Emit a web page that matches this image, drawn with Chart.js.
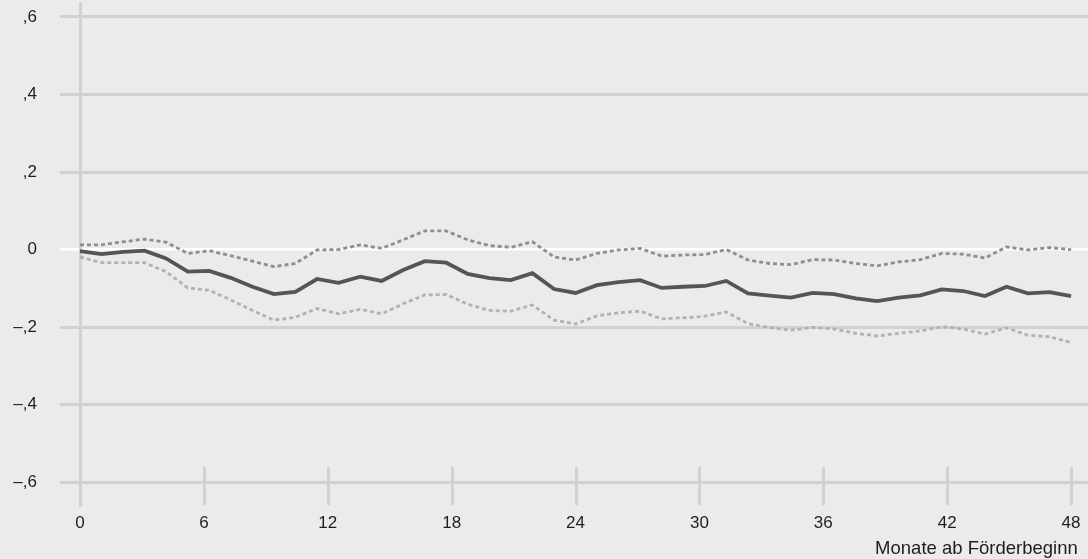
<!DOCTYPE html>
<html>
<head>
<meta charset="utf-8">
<script src="https://cdn.jsdelivr.net/npm/chart.js@4"></script>
<style>
  html, body { margin: 0; padding: 0; background: #ebebeb; }
  #wrap { width: 1088px; height: 559px; position: relative; }
</style>
</head>
<body>
<div id="wrap"><canvas id="chart"></canvas></div>
<script>
// months since start (47 observations spread over 0..48)
var months = [0, 1.04, 2.09, 3.13, 4.17, 5.22, 6.26, 7.30, 8.35, 9.39, 10.43, 11.48,
  12.52, 13.57, 14.61, 15.65, 16.70, 17.74, 18.78, 19.83, 20.87, 21.91, 22.96, 24.00,
  25.04, 26.09, 27.13, 28.17, 29.22, 30.26, 31.30, 32.35, 33.39, 34.43, 35.48, 36.52,
  37.57, 38.61, 39.65, 40.70, 41.74, 42.78, 43.83, 44.87, 45.91, 46.96, 48];

var effect = [-0.004, -0.012, -0.006, -0.003, -0.023, -0.057, -0.055, -0.073, -0.096, -0.115, -0.109, -0.076,
  -0.086, -0.070, -0.081, -0.053, -0.030, -0.034, -0.063, -0.074, -0.079, -0.061, -0.102, -0.112,
  -0.092, -0.084, -0.079, -0.099, -0.096, -0.094, -0.081, -0.113, -0.119, -0.124, -0.112, -0.115,
  -0.126, -0.133, -0.124, -0.118, -0.103, -0.107, -0.120, -0.096, -0.113, -0.110, -0.120];

var upper = [0.012, 0.012, 0.020, 0.027, 0.019, -0.010, -0.003, -0.016, -0.030, -0.044, -0.036, -0.001,
  0.000, 0.012, 0.003, 0.025, 0.048, 0.048, 0.025, 0.010, 0.006, 0.020, -0.019, -0.027,
  -0.010, -0.001, 0.003, -0.017, -0.014, -0.013, 0.000, -0.027, -0.036, -0.039, -0.026, -0.027,
  -0.036, -0.042, -0.032, -0.026, -0.010, -0.012, -0.022, 0.007, -0.001, 0.005, 0.000];

var lower = [-0.019, -0.034, -0.034, -0.034, -0.057, -0.099, -0.105, -0.130, -0.157, -0.182, -0.175, -0.152,
  -0.166, -0.154, -0.166, -0.140, -0.117, -0.116, -0.141, -0.157, -0.159, -0.143, -0.182, -0.192,
  -0.171, -0.163, -0.159, -0.179, -0.176, -0.172, -0.161, -0.191, -0.201, -0.208, -0.201, -0.205,
  -0.216, -0.223, -0.216, -0.210, -0.199, -0.205, -0.218, -0.202, -0.221, -0.225, -0.240];

var xTicks = [0, 6, 12, 18, 24, 30, 36, 42, 48];
var yTicks = [0.6, 0.4, 0.2, 0, -0.2, -0.4, -0.6];
var yLabels = [',6', ',4', ',2', '0', '\u2013,2', '\u2013,4', '\u2013,6'];
var xTitle = 'Monate ab F\u00f6rderbeginn';

function pts(vals) {
  return vals.map(function (v, i) { return { x: months[i], y: v }; });
}

var gridCol = '#d1d1d1';
var font = "'Liberation Sans', Arial, Helvetica, sans-serif";

// short tick marks standing on the bottom gridline
var tickMarks = {
  id: 'tickMarks',
  beforeDatasetsDraw: function (chart) {
    var c = chart.ctx, xs = chart.scales.x, ys = chart.scales.y;
    var base = ys.getPixelForValue(yTicks[yTicks.length - 1]);
    c.save();
    c.strokeStyle = gridCol;
    c.lineWidth = 3;
    xTicks.forEach(function (t) {
      if (t === 0) return;
      var px = Math.round(xs.getPixelForValue(t)) + 0.5;
      c.beginPath();
      c.moveTo(px, base - 15);
      c.lineTo(px, chart.chartArea.bottom);
      c.stroke();
    });
    c.restore();
  }
};

new Chart(document.getElementById('chart'), {
  type: 'line',
  data: {
    datasets: [{
      data: pts(effect),
      borderColor: '#555555',
      borderWidth: 3.8,
      pointRadius: 0,
      tension: 0
    }, {
      data: pts(upper),
      borderColor: '#8e8e8e',
      borderWidth: 2.8,
      borderDash: [4, 3],
      pointRadius: 0,
      tension: 0
    }, {
      data: pts(lower),
      borderColor: '#b2b2b2',
      borderWidth: 2.8,
      borderDash: [4, 3],
      pointRadius: 0,
      tension: 0
    }]
  },
  options: {
    responsive: true,
    maintainAspectRatio: false,
    animation: false,
    layout: { padding: { left: 0, right: 0, top: 3, bottom: 0 } },
    plugins: { legend: { display: false }, tooltip: { enabled: false } },
    scales: {
      x: {
        type: 'linear',
        min: 0,
        max: 48.82,
        afterBuildTicks: function (s) { s.ticks = xTicks.map(function (v) { return { value: v }; }); },
        afterFit: function (s) { s.height = 54; s.paddingLeft = 0; s.paddingRight = 0; },
        grid: { display: false, drawTicks: false },
        border: { display: false },
        ticks: {
          padding: 8,
          maxRotation: 0,
          autoSkip: false,
          color: '#1e1e1e',
          font: { family: font, size: 17 },
          callback: function (v) { return String(v); }
        },
        title: {
          display: true,
          text: xTitle + '\u00a0\u00a0',
          align: 'end',
          color: '#1e1e1e',
          font: { family: font, size: 18.5 },
          padding: { top: 2, bottom: -1 }
        }
      },
      y: {
        min: -0.659,
        max: 0.636,
        afterFit: function (s) { s.width = 80; s.paddingTop = 0; s.paddingBottom = 0; },
        afterBuildTicks: function (s) { s.ticks = yTicks.map(function (v) { return { value: v }; }); },
        grid: {
          color: function (c) { return c.tick && c.tick.value === 0 ? '#ffffff' : gridCol; },
          lineWidth: function (c) { return c.tick && c.tick.value === 0 ? 2.5 : 3; },
          tickLength: 20,
          drawTicks: true
        },
        border: { display: true, color: gridCol, width: 3 },
        ticks: {
          padding: 23,
          autoSkip: false,
          color: '#1e1e1e',
          font: { family: font, size: 17 },
          callback: function (v) {
            var i = yTicks.indexOf(v);
            return i >= 0 ? yLabels[i] : '';
          }
        }
      }
    }
  },
  plugins: [tickMarks]
});
</script>
</body>
</html>
